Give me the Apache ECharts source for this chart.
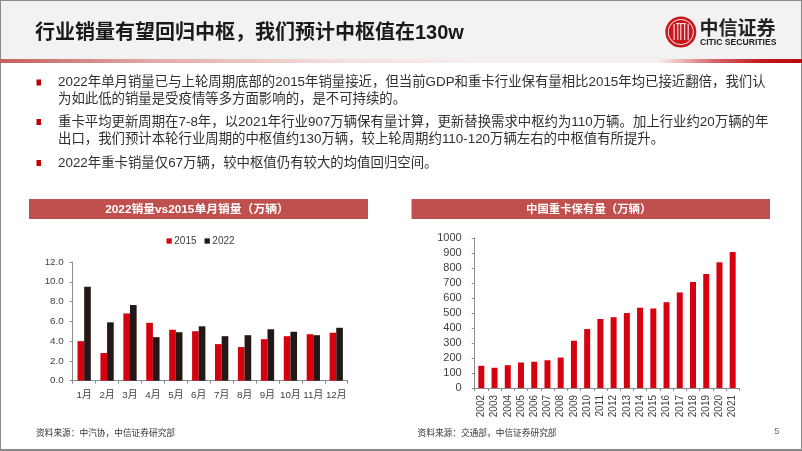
<!DOCTYPE html>
<html><head><meta charset="utf-8">
<style>html,body{margin:0;padding:0;background:#fff}#c{width:802px;height:451px}
#rule{position:absolute;left:0;top:59px;width:802px;height:3.5px;z-index:5;background:linear-gradient(90deg,#c4605c 0%,#e2aeaa 20%,#f3dedc 42%,#f8f0f0 60%,#f8f0f0 82%,#d4666a 89%,#c2181c 95%,#b40a10 100%)}</style>
<script src="https://cdn.jsdelivr.net/npm/echarts@6/dist/echarts.min.js"></script>
</head><body><div id="c"></div><div id="rule"></div>
<script>
const months=['1月','2月','3月','4月','5月','6月','7月','8月','9月','10月','11月','12月'];
const sales2015=[4.0,2.8,6.8,5.85,5.15,5.0,3.7,3.4,4.2,4.5,4.7,4.85];
const sales2022=[9.5,5.9,7.65,4.4,4.9,5.5,4.5,4.6,5.2,4.95,4.6,5.35];
const years=['2002','2003','2004','2005','2006','2007','2008','2009','2010','2011','2012','2013','2014','2015','2016','2017','2018','2019','2020','2021'];
const parc=[148,135,152,170,175,185,203,315,393,460,472,500,535,530,572,637,707,760,838,907];
const titleText='行业销量有望回归中枢，我们预计中枢值在130w';
const bulletLines=[
 ['2022年单月销量已与上轮周期底部的2015年销量接近，但当前GDP和重卡行业保有量相比2015年均已接近翻倍，我们认',82.5],
 ['为如此低的销量是受疫情等多方面影响的，是不可持续的。',99],
 ['重卡平均更新周期在7-8年，以2021年行业907万辆保有量计算，更新替换需求中枢约为110万辆。加上行业约20万辆的年',122],
 ['出口，我们预计本轮行业周期的中枢值约130万辆，较上轮周期约110-120万辆左右的中枢值有所提升。',139.5],
 ['2022年重卡销量仅67万辆，较中枢值仍有较大的均值回归空间。',163]
];
const FF='"Liberation Sans","Noto Sans CJK SC",sans-serif';
const RED='#d7000f',DARK='#231815',AX='#8c8c8c';
const g=[];
const rect=(x,y,w,h,fill)=>g.push({type:'rect',silent:true,shape:{x,y,width:w,height:h},style:{fill}});
const text=(x,y,t,o)=>g.push({type:'text',silent:true,x,y,style:Object.assign({text:t,fontFamily:FF,fontSize:12,fill:'#333',align:'left',verticalAlign:'middle'},o||{})});
rect(0,0,802,59,'#f2f2f2');
rect(0,0,802,1,'#8a8a8a');rect(0,0,1,450,'#8a8a8a');rect(801,0,1,450,'#8a8a8a');rect(0,449,802,2,'#8a8a8a');
text(35,33.5,titleText,{fontSize:20,fontWeight:'bold',fill:'#1a1a1a'});
bulletLines.forEach(([t,y])=>{text(58,y,t,{fontSize:13.4,fill:'#303030'});});
[82.5,122,163].forEach(y=>rect(36.5,y-3,4.5,6,'#c00000'));
rect(29,199,339,20,'#c0504d');rect(411.5,199,358.5,20,'#c0504d');
text(197,209.5,'2022销量vs2015单月销量（万辆）',{align:'center',fontSize:11.8,fontWeight:'bold',fill:'#fff'});
text(588.7,209.5,'中国重卡保有量（万辆）',{align:'center',fontSize:11.4,fontWeight:'bold',fill:'#fff'});
text(36,434,'资料来源：中汽协，中信证券研究部',{fontSize:8.7,fill:'#333'});
text(417.5,434,'资料来源：交通部，中信证券研究部',{fontSize:8.7,fill:'#333'});
text(776.7,432,'5',{fontSize:9,fill:'#666',align:'center'});
// logo
g.push({type:'circle',silent:true,shape:{cx:680.8,cy:32,r:15.5},style:{fill:'#c8161d'}});
g.push({type:'ring',silent:true,shape:{cx:680.8,cy:32,r:13,r0:12},style:{fill:'#f6d5d5'}});
[673.5,677.2,680.2,684,687.6].forEach(x=>rect(x,24,1.2,16,'#f6d5d5'));
rect(676,23,10,1.2,'#f6d5d5');
text(699.5,28,'中信证券',{fontSize:19,fontWeight:'bold',fill:'#222',fontFamily:'"Noto Sans CJK SC",sans-serif'});
text(700,42.5,'CITIC SECURITIES',{fontSize:8.6,fontWeight:'bold',fill:'#222'});
const axLine={lineStyle:{color:AX,width:1}};
const lab={fontFamily:FF,color:'#404040'};
const option={animation:false,textStyle:{fontFamily:FF},
 legend:{show:true,top:236,left:166.5,itemWidth:5.3,itemHeight:5.3,itemGap:8,icon:'rect',padding:0,
   textStyle:{fontFamily:FF,fontSize:10,color:'#404040',padding:[0,0,0,-2.5]},data:['2015','2022']},
 grid:[
  {left:72.7,top:262,width:275,height:118.7,containLabel:false},
  {left:474.7,top:238,width:264.6,height:150,containLabel:false}],
 xAxis:[
  {gridIndex:0,type:'category',data:months,axisLine:axLine,axisTick:{show:true,length:3,lineStyle:{color:AX}},axisLabel:Object.assign({},lab,{margin:10,interval:0,fontSize:9.8})},
  {gridIndex:1,type:'category',data:years,axisLine:axLine,axisTick:{show:true,length:3,lineStyle:{color:AX}},axisLabel:Object.assign({},lab,{rotate:90,margin:7,interval:0,fontSize:10})}],
 yAxis:[
  {gridIndex:0,type:'value',min:0,max:12,interval:2,splitLine:{show:false},axisLine:Object.assign({show:true},axLine),axisTick:{show:true,length:3,lineStyle:{color:AX}},axisLabel:Object.assign({},lab,{margin:9,fontSize:9.8,formatter:v=>v.toFixed(1)})},
  {gridIndex:1,type:'value',min:0,max:1000,interval:100,splitLine:{show:false},axisLine:Object.assign({show:true},axLine),axisTick:{show:true,length:3,lineStyle:{color:AX}},axisLabel:Object.assign({},lab,{margin:13,fontSize:11,formatter:v=>String(v)})}],
 series:[
  {name:'2015',type:'bar',xAxisIndex:0,yAxisIndex:0,data:sales2015,barGap:0,barCategoryGap:'42%',itemStyle:{color:RED}},
  {name:'2022',type:'bar',xAxisIndex:0,yAxisIndex:0,data:sales2022,itemStyle:{color:DARK}},
  {name:'保有量',type:'bar',xAxisIndex:1,yAxisIndex:1,data:parc,barWidth:6,itemStyle:{color:RED}}],
 graphic:{elements:g}
};
echarts.init(document.getElementById('c'),null,{renderer:'canvas'}).setOption(option);
</script></body></html>
